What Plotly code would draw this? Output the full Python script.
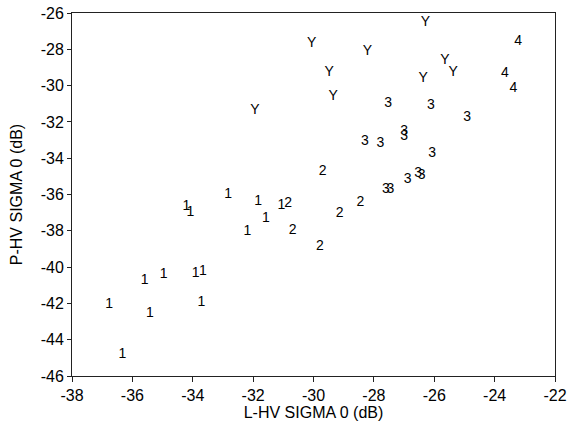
import plotly.graph_objects as go

# Group "1"
g1_x = [-32.83, -31.83, -31.06, -34.21, -34.08, -31.58, -32.19, -35.59, -34.96, -33.90, -33.66, -36.77, -35.42, -33.71, -36.33]
g1_y = [-36.02, -36.39, -36.63, -36.67, -37.00, -37.30, -38.04, -40.73, -40.42, -40.37, -40.24, -42.07, -42.53, -41.94, -44.82]
# Group "2"
g2_x = [-29.70, -30.84, -28.45, -29.13, -30.69, -29.79]
g2_y = [-34.74, -36.48, -36.46, -37.03, -38.00, -38.88]
# Group "3"
g3_x = [-27.53, -26.11, -24.91, -27.00, -27.00, -28.30, -27.78, -26.07, -26.88, -26.53, -26.42, -27.60, -27.45]
g3_y = [-30.98, -31.07, -31.75, -32.54, -32.82, -33.09, -33.18, -33.73, -35.16, -34.83, -34.98, -35.75, -35.75]
# Group "4"
g4_x = [-23.22, -23.66, -23.38]
g4_y = [-27.59, -29.33, -30.16]
# Group "Y"
gy_x = [-26.29, -30.06, -28.21, -25.65, -29.48, -25.37, -26.37, -29.35, -31.94]
gy_y = [-26.55, -27.68, -28.14, -28.60, -29.30, -29.30, -29.61, -30.62, -31.35]

groups = [("1", g1_x, g1_y), ("2", g2_x, g2_y), ("3", g3_x, g3_y), ("4", g4_x, g4_y), ("Y", gy_x, gy_y)]

x_ticks = [-38, -36, -34, -32, -30, -28, -26, -24, -22]
y_ticks = [-46, -44, -42, -40, -38, -36, -34, -32, -30, -28, -26]

FONT = "Liberation Sans, Arial, Helvetica, sans-serif"

fig = go.Figure()
for label, xs, ys in groups:
    fig.add_trace(go.Scatter(
        x=xs, y=ys, mode="text", text=[label] * len(xs),
        textposition="middle center",
        textfont=dict(family=FONT, size=14, color="black"),
        cliponaxis=False, showlegend=False, hoverinfo="x+y",
    ))

axis_common = dict(
    showgrid=False, zeroline=False, showline=True, linecolor="#222",
    linewidth=1, mirror=True, ticks="outside", tickcolor="#222",
    tickfont=dict(family=FONT, size=16, color="black"),
)

fig.update_xaxes(
    range=[-38, -22], tickvals=x_ticks, ticktext=[str(v) for v in x_ticks],
    ticklen=5, title=dict(text="L-HV SIGMA 0 (dB)", font=dict(family=FONT, size=16, color="black"), standoff=0),
    automargin=False, **axis_common,
)
fig.update_yaxes(
    range=[-46, -26], tickvals=y_ticks, ticktext=[str(v) for v in y_ticks],
    ticklen=4, title=dict(text="P-HV SIGMA 0 (dB)", font=dict(family=FONT, size=16, color="black"), standoff=14),
    automargin=False, **axis_common,
)

fig.update_layout(
    width=575, height=421,
    margin=dict(l=72, r=20, t=13, b=45),
    plot_bgcolor="white", paper_bgcolor="white",
)

fig.write_html("out.html")
